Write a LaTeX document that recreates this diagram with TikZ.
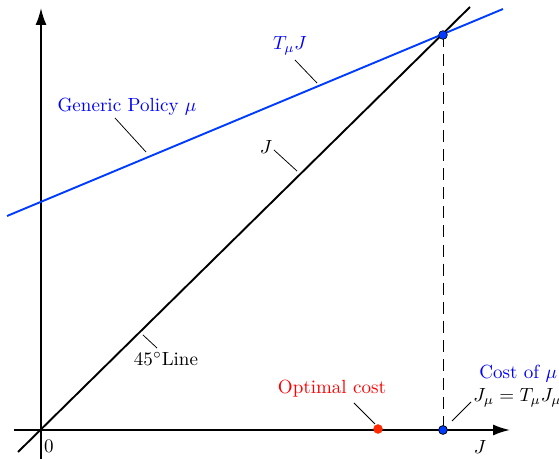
\documentclass[tikz,border=0pt]{standalone}
\usetikzlibrary{arrows.meta}
\definecolor{lineblue}{RGB}{0,60,255}
\definecolor{dotred}{RGB}{255,40,0}
\tikzset{
  axis/.style={line width=1pt,-{Latex[length=8.9pt,width=5.8pt]}},
  mainline/.style={line width=1pt},
  pointer/.style={line width=0.4pt},
  lbl/.style={inner sep=0pt},
  dot/.style={circle,inner sep=0pt,minimum size=#1},
}
\begin{document}
\begin{tikzpicture}[x=0.525pt,y=-0.525pt]
\useasboundingbox (0,0) rectangle (559,459);
% axes
\coordinate (o) at (41,430);
\coordinate (ybot) at (41,459);
\coordinate (ytop) at (41,8);
\coordinate (xl) at (14,430);
\coordinate (xr) at (510,430);
\draw[axis] (ybot) -- (ytop);
\draw[axis] (xl) -- (xr);
% 45 degree line
\coordinate (d1) at (18,452);
\coordinate (d2) at (470,7);
\draw[mainline] (d1) -- (d2);
% policy line
\coordinate (b1) at (7,216);
\coordinate (b2) at (503,9);
\draw[mainline,lineblue] (b1) -- (b2);
% dashed
\coordinate (fix) at (443,35);
\coordinate (fixx) at (443,430);
\draw[line width=0.5pt,dash pattern=on 6.3pt off 3.7pt] (fix) -- (fixx);
\node[dot=4.6pt,fill=lineblue,draw=black,line width=0.3pt] (pfix) at (fix) {};
\node[dot=4.6pt,fill=lineblue,draw=black,line width=0.4pt] (pjmu) at (fixx) {};
\node[dot=5pt,fill=dotred] (popt) at (378,429) {};
% labels
\node[lbl,text=blue] (gp) at (127,107) {Generic Policy $\mu$};
\coordinate (gpa) at (115,118); \coordinate (gpb) at (146,152);
\draw[pointer] (gpa) -- (gpb);
\node[lbl,text=blue] (tj) at (290,46) {$T_\mu J$};
\coordinate (tja) at (295,60); \coordinate (tjb) at (317,83);
\draw[pointer] (tja) -- (tjb);
\node[lbl] (jl) at (266,147) {$J$};
\coordinate (jla) at (274,150); \coordinate (jlb) at (297,171);
\draw[pointer] (jla) -- (jlb);
\node[lbl] (fl) at (166,359) {$45^\circ$Line};
\coordinate (fla) at (143,335); \coordinate (flb) at (157,348);
\draw[pointer] (fla) -- (flb);
\node[lbl,text=red] (oc) at (332,389) {Optimal cost};
\coordinate (oca) at (354,403); \coordinate (ocb) at (375,424);
\draw[pointer] (oca) -- (ocb);
\node[lbl,text=blue,anchor=west] (cm) at (479,374) {Cost of $\mu$};
\node[lbl,anchor=west] (jm) at (473,398) {$J_\mu=T_\mu J_\mu$};
\coordinate (cma) at (452,421); \coordinate (cmb) at (471,402);
\draw[pointer] (cma) -- (cmb);
\node[lbl] (zero) at (49,446) {$0$};
\node[lbl] (jx) at (480,447) {$J$};
\end{tikzpicture}
\end{document}
